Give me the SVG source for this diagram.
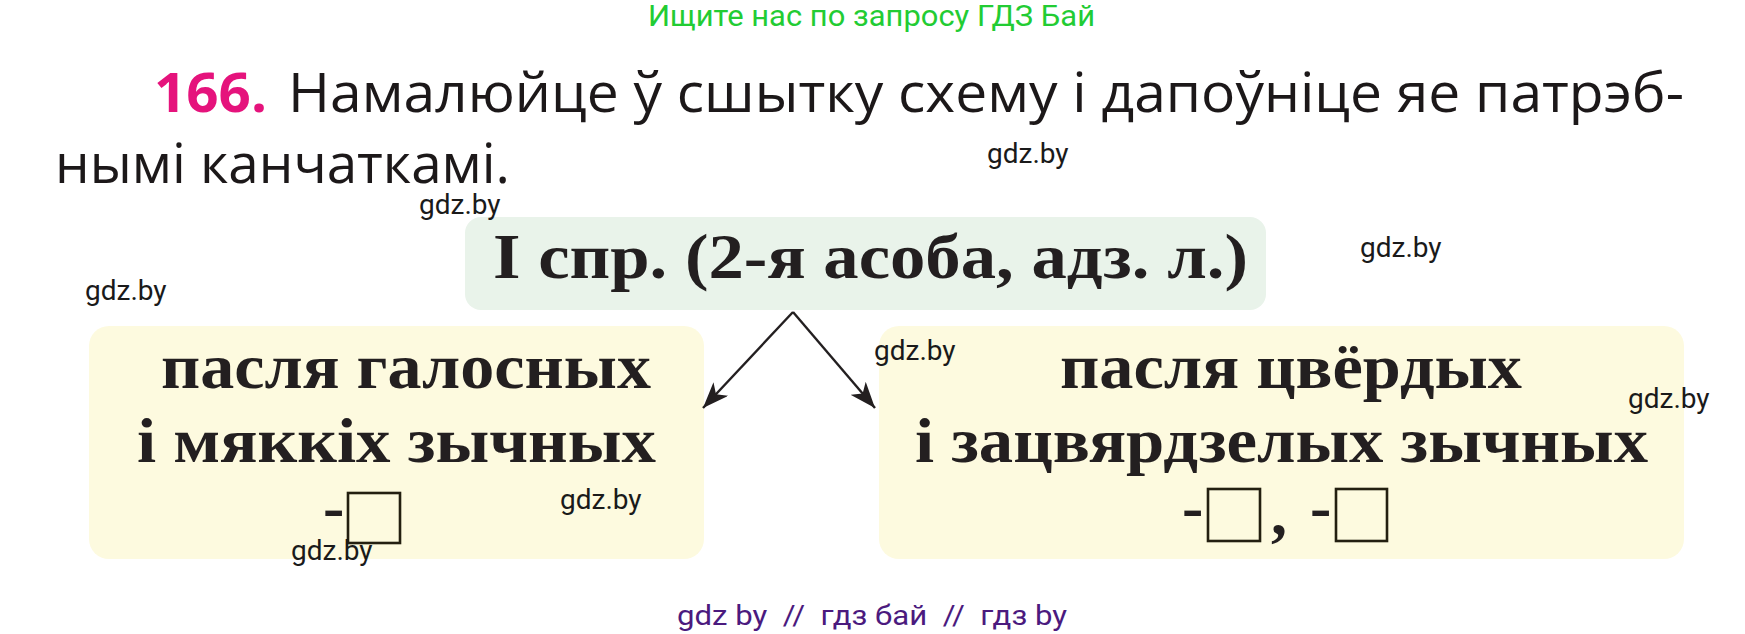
<svg xmlns="http://www.w3.org/2000/svg" width="1745" height="634" viewBox="0 0 1745 634">
<style>
.wm{font-family:Roboto,"Liberation Sans",sans-serif;font-size:28px;fill:#1a1a1a}
.hd{font-family:"Open Sans","Noto Sans",sans-serif;font-size:54px;fill:#1c1819}
.bx{font-family:"Liberation Serif","DejaVu Serif",serif;font-weight:bold;font-size:64px;fill:#231f20}
.sq{fill:none;stroke:#231f10;stroke-width:2.6}
.cn{stroke:#231f20;stroke-width:2.4;fill:none}
</style>
<defs>
<marker id="ah" viewBox="0 0 26 20" refX="26" refY="10" markerWidth="26" markerHeight="20" markerUnits="userSpaceOnUse" orient="auto">
<path d="M26,10 L0,0 L7,10 L0,20 Z" fill="#231f20"/>
</marker>
</defs>
<rect width="1745" height="634" fill="#ffffff"/>
<g id="top-banner">
<text x="648" y="26" font-family="Roboto,'Liberation Sans',sans-serif" font-size="29" fill="#22cc33" textLength="447" lengthAdjust="spacingAndGlyphs">Ищите нас по запросу ГДЗ Бай</text>
</g>
<g id="task">
<text x="154" y="112" font-family="'Open Sans','Noto Sans',sans-serif" font-weight="bold" font-size="54" fill="#e5137c" textLength="113" lengthAdjust="spacingAndGlyphs">166.</text>
<text class="hd" x="288" y="112" textLength="1396" lengthAdjust="spacingAndGlyphs">Намалюйце ў сшытку схему і дапоўніце яе патрэб-</text>
<text class="hd" x="55" y="183" textLength="455" lengthAdjust="spacingAndGlyphs">нымі канчаткамі.</text>
</g>
<g id="node-top">
<rect x="465" y="217" width="801" height="93" rx="16" fill="#e9f3ea"/>
<text class="bx" x="493" y="278" font-size="62" textLength="755" lengthAdjust="spacingAndGlyphs">I спр. (2-я асоба, адз. л.)</text>
</g>
<g id="node-left">
<rect x="89" y="326" width="615" height="233" rx="20" fill="#fdfadf"/>
<text class="bx" x="161" y="388" textLength="490" lengthAdjust="spacingAndGlyphs">пасля галосных</text>
<text class="bx" x="137" y="462" textLength="519" lengthAdjust="spacingAndGlyphs">і мяккіх зычных</text>
<text class="bx" x="323" y="528">-</text>
<rect class="sq" x="348" y="493" width="52" height="50"/>
</g>
<g id="node-right">
<rect x="879" y="326" width="805" height="233" rx="20" fill="#fdfadf"/>
<text class="bx" x="1060" y="388" textLength="462" lengthAdjust="spacingAndGlyphs">пасля цвёрдых</text>
<text class="bx" x="915" y="462" textLength="733" lengthAdjust="spacingAndGlyphs">і зацвярдзелых зычных</text>
<text class="bx" x="1182" y="528">-</text>
<rect class="sq" x="1208" y="489" width="52" height="52"/>
<text class="bx" x="1271" y="534">,</text>
<text class="bx" x="1310" y="528">-</text>
<rect class="sq" x="1336" y="489" width="51" height="52"/>
</g>
<g id="connectors">
<line class="cn" x1="793" y1="312" x2="703" y2="408" marker-end="url(#ah)"/>
<line class="cn" x1="793" y1="312" x2="875" y2="408" marker-end="url(#ah)"/>
</g>
<g id="watermarks">
<text class="wm" x="987" y="163">gdz.by</text>
<text class="wm" x="419" y="214">gdz.by</text>
<text class="wm" x="1360" y="257" font-size="25">gdz.by</text>
<text class="wm" x="85" y="300">gdz.by</text>
<text class="wm" x="874" y="360">gdz.by</text>
<text class="wm" x="1628" y="408">gdz.by</text>
<text class="wm" x="560" y="509">gdz.by</text>
<text class="wm" x="291" y="560">gdz.by</text>
</g>
<g id="footer">
<text x="677" y="625" font-family="Roboto,'Liberation Sans',sans-serif" font-size="28" fill="#4b1a7e" textLength="390" lengthAdjust="spacingAndGlyphs" xml:space="preserve">gdz by  //  гдз бай  //  гдз by</text>
</g>
</svg>
